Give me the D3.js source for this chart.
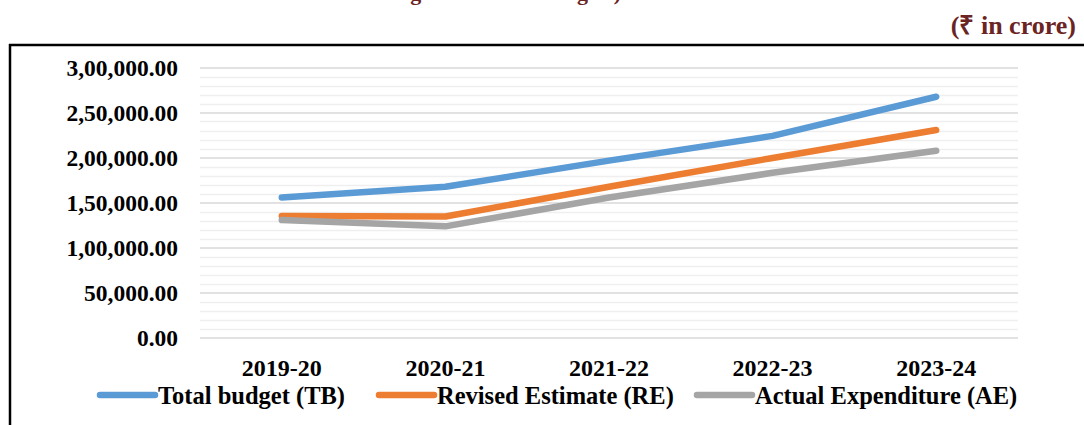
<!DOCTYPE html>
<html>
<head>
<meta charset="utf-8">
<script src="https://cdn.jsdelivr.net/npm/d3@7"></script>
<style>
  html, body { margin: 0; padding: 0; background: #fff; }
  svg { display: block; }
  text { font-family: "Liberation Serif", "Times New Roman", serif; font-weight: bold; }
</style>
</head>
<body>
<svg id="chart" width="1084" height="425"></svg>
<script>
// ---- data ----
const categories = ["2019-20", "2020-21", "2021-22", "2022-23", "2023-24"];
const totalBudget = [155500, 167500, 196500, 224000, 267500];
const revisedEstimate = [135000, 134500, 167500, 199500, 230500];
const actualExpenditure = [130500, 123500, 155500, 183000, 207500];
const seriesNames = ["Total budget (TB)", "Revised Estimate (RE)", "Actual Expenditure (AE)"];
const yTicks = [0, 50000, 100000, 150000, 200000, 250000, 300000];
const unitLabel = "(₹ in crore)";
const titleText = "Budget and Total Budgets)";

const seriesColors = ["#5B9BD5", "#ED7D31", "#A5A5A5"];
const seriesData = [totalBudget, revisedEstimate, actualExpenditure];

const svg = d3.select("#chart");

// frame lines
svg.append("line").attr("x1", 9).attr("x2", 1084).attr("y1", 45).attr("y2", 45)
  .attr("stroke", "#000").attr("stroke-width", 2.5);
svg.append("line").attr("x1", 10).attr("x2", 10).attr("y1", 44).attr("y2", 425)
  .attr("stroke", "#000").attr("stroke-width", 2.5);

// title fragment (cut off at top, as in the reference)
svg.append("text").attr("x", 371).attr("y", 0).attr("text-anchor", "start")
  .attr("fill", "#6B2424").style("font-size", "22px").text(titleText);

svg.append("text").attr("x", 1076).attr("y", 34).attr("text-anchor", "end")
  .attr("fill", "#6B2424").style("font-size", "26px").text(unitLabel);

const x = d3.scaleBand().domain(categories).range([200, 1018]).padding(0);
const y = d3.scaleLinear().domain([0, 300000]).range([337.5, 67.5]);

// minor gridlines
const minorTicks = d3.range(0, 300001, 10000).filter(v => v % 50000 !== 0);
svg.append("g").selectAll("line").data(minorTicks).join("line")
  .attr("x1", 200).attr("x2", 1018)
  .attr("y1", d => Math.round(y(d)) + 0.5).attr("y2", d => Math.round(y(d)) + 0.5)
  .attr("stroke", "#EFEFEF").attr("stroke-width", 1.3);

// major gridlines via axis
const yAxis = d3.axisLeft(y).tickValues(yTicks).tickSize(-818)
  .tickFormat(d => d.toLocaleString("en-IN", { minimumFractionDigits: 2, maximumFractionDigits: 2 }));
const gy = svg.append("g").attr("transform", "translate(200,0)").call(yAxis);
gy.select(".domain").remove();
gy.selectAll(".tick line").attr("stroke", "#D9D9D9").attr("stroke-width", 1.5);
gy.selectAll(".tick text").attr("x", -22).attr("dy", "0.35em")
  .attr("fill", "#000").style("font-size", "23.5px")
  .style("font-family", "'Liberation Serif', serif").style("font-weight", "bold");

// x axis labels
const xAxis = d3.axisBottom(x).tickSize(0).tickPadding(0);
const gx = svg.append("g").attr("transform", "translate(0,337.5)").call(xAxis);
gx.select(".domain").remove();
gx.selectAll(".tick text").attr("y", 30).attr("dy", "0.35em")
  .attr("fill", "#000").style("font-size", "24px")
  .style("font-family", "'Liberation Serif', serif").style("font-weight", "bold");

// lines
const line = d3.line().x((d, i) => x(categories[i]) + x.bandwidth() / 2).y(d => y(d));
svg.append("g").selectAll("path").data(seriesData).join("path")
  .attr("d", d => line(d))
  .attr("fill", "none")
  .attr("stroke", (d, i) => seriesColors[i])
  .attr("stroke-width", 6.5)
  .attr("stroke-linecap", "round")
  .attr("stroke-linejoin", "round");

// legend
const legendX = [100, 379, 697];
const lg = svg.append("g").selectAll("g").data(seriesNames).join("g")
  .attr("transform", (d, i) => `translate(${legendX[i]},395)`);
lg.append("line").attr("x1", 0).attr("x2", 55).attr("y1", 0).attr("y2", 0)
  .attr("stroke", (d, i) => seriesColors[i]).attr("stroke-width", 6.5).attr("stroke-linecap", "round");
lg.append("text").attr("x", 58).attr("dy", "0.35em").attr("fill", "#000")
  .style("font-size", "24.5px").text(d => d);
</script>
</body>
</html>
